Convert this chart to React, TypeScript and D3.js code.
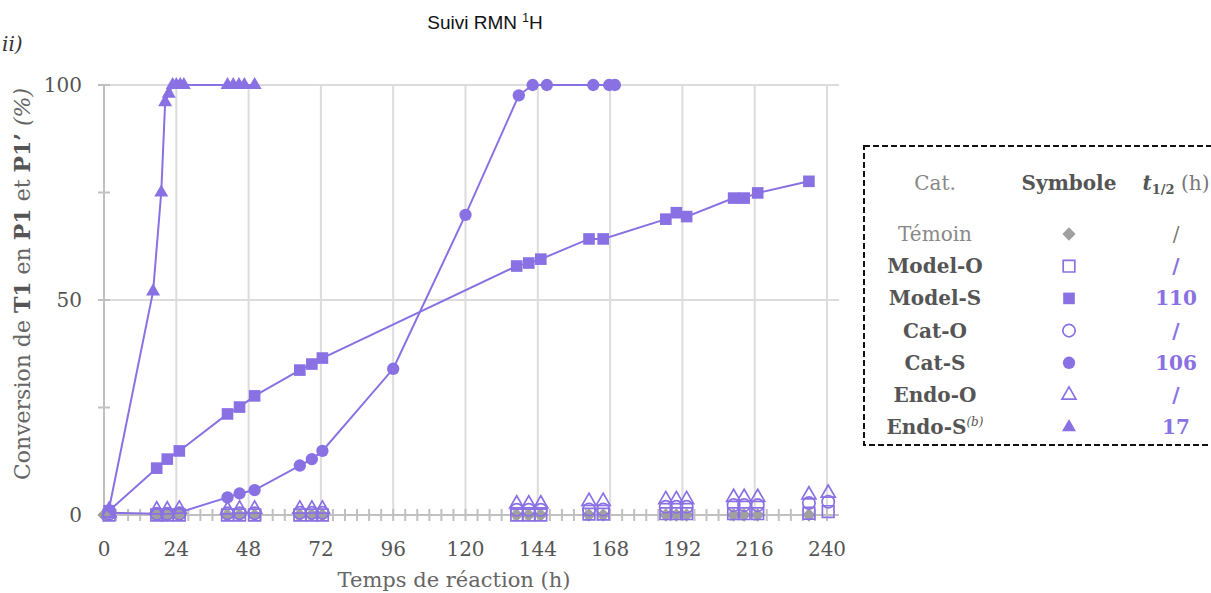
import React from 'react';
import * as d3 from 'd3';

const PURPLE = '#8a71e3';
const GREY = '#a0a0a0';
const SERIF = '"DejaVu Serif", serif';

// sampling times (h)
const tempsO = [1.7, 17.5, 21, 25, 41, 45, 50, 65, 69, 72.5, 137, 141, 145, 161, 165.7, 186.5, 190, 193.4, 209, 212.5, 217, 234, 240.4];
const tempsTemoin = [0, 17.5, 21, 25, 41, 45, 50, 65, 69, 72.5, 137, 141, 145, 161, 165.7, 186.5, 190, 193.4, 209, 212.5, 217, 234];
const tempsModelS = [1.7, 17.5, 21, 25, 41, 45, 50, 65, 69, 72.5, 137, 141, 145, 161, 165.7, 186.5, 190, 193.4, 209, 212.5, 217, 234];
const tempsCatS = [1.7, 17.5, 21, 25, 41, 45, 50, 65, 69, 72.5, 96, 120, 137.7, 142.3, 147, 162.4, 167.7, 169.6];
const tempsEndoS = [1.7, 16.3, 19, 20.3, 21.5, 22.8, 24, 25.3, 26.5, 41, 42.9, 44.8, 46.6, 50];

// conversions (%)
const temoin = [0, 0, 0, 0, 0, 0, 0, 0, 0, 0, 0, 0, 0, 0, 0, 0, 0, 0, 0, 0, 0, 0];
const modelO = [0, 0, 0, 0, 0, 0, 0, 0, 0, 0, 0, 0, 0, 0.2, 0.2, 0.3, 0.3, 0.3, 0.3, 0.3, 0.3, 0.4, 0.8];
const modelS = [1, 10.9, 13, 14.9, 23.5, 25.1, 27.7, 33.7, 35.1, 36.5, 57.9, 58.6, 59.5, 64.2, 64.2, 68.8, 70.3, 69.4, 73.7, 73.7, 74.9, 77.6];
const catO = [0.3, 0.3, 0.3, 0.3, 0.4, 0.4, 0.4, 0.5, 0.5, 0.5, 1.2, 1.2, 1.2, 1.3, 1.3, 1.9, 1.9, 1.9, 2.3, 2.3, 2.3, 2.8, 3.1];
const catS = [0.5, 0.3, 0.4, 0.6, 4.1, 5.0, 5.8, 11.5, 13, 14.9, 34, 69.8, 97.6, 100, 100, 100, 100, 100];
const endoO = [0.5, 1.2, 1.2, 1.4, 1.2, 1.4, 1.4, 1.4, 1.4, 1.4, 2.6, 2.6, 2.6, 3.2, 3.2, 3.6, 3.6, 3.6, 4.1, 4.1, 4.1, 4.7, 5.1];
const endoS = [1.5, 52, 75, 96, 98, 100, 100, 100, 100, 100, 100, 100, 100, 100];

// legend table
const legendNames = ['Témoin', 'Model-O', 'Model-S', 'Cat-O', 'Cat-S', 'Endo-O', 'Endo-S'];
const legendHalfLife = ['/', '/', '110', '/', '106', '/', '17'];

const xTicks = d3.range(0, 241, 24);
const xMinor = d3.range(0, 241, 4);
const yTicks = [0, 25, 50, 75, 100];
const yLabels = [0, 50, 100];

type Marker = 'diamond' | 'square' | 'circle' | 'triangle';

const symbolPath = (m: Marker) => {
  if (m === 'square') return d3.symbol(d3.symbolSquare, 135)()!;
  if (m === 'circle') return d3.symbol(d3.symbolCircle, 120)()!;
  if (m === 'triangle') return d3.symbol(d3.symbolTriangle, 85)()!;
  return d3.symbol(d3.symbolSquare, 88)()!;
};

const MarkerShape = ({ m, filled, x, y, color }: { m: Marker; filled: boolean; x: number; y: number; color: string }) => (
  <path
    d={symbolPath(m)}
    transform={`translate(${x},${y})${m === 'diamond' ? ' rotate(45)' : ''}`}
    fill={filled ? color : 'none'}
    stroke={filled ? 'none' : color}
    strokeWidth={1.7}
  />
);

const legendMarkers: { m: Marker; filled: boolean; color: string }[] = [
  { m: 'diamond', filled: true, color: GREY },
  { m: 'square', filled: false, color: PURPLE },
  { m: 'square', filled: true, color: PURPLE },
  { m: 'circle', filled: false, color: PURPLE },
  { m: 'circle', filled: true, color: PURPLE },
  { m: 'triangle', filled: false, color: PURPLE },
  { m: 'triangle', filled: true, color: PURPLE },
];

export default function App() {
  const x = d3.scaleLinear().domain([0, 240]).range([104, 827]);
  const y = d3.scaleLinear().domain([0, 100]).range([515, 85]);
  const line = d3
    .line<[number, number]>()
    .x(d => x(d[0]))
    .y(d => y(d[1]));

  const zip = (t: number[], v: number[]) => t.map((ti, i) => [ti, v[i]] as [number, number]);

  const sSeries: { pts: [number, number][]; m: Marker }[] = [
    { pts: zip(tempsModelS, modelS), m: 'square' },
    { pts: zip(tempsCatS, catS), m: 'circle' },
    { pts: zip(tempsEndoS, endoS), m: 'triangle' },
  ];
  const oSeries: { pts: [number, number][]; m: Marker }[] = [
    { pts: zip(tempsO, modelO), m: 'square' },
    { pts: zip(tempsO, catO), m: 'circle' },
    { pts: zip(tempsO, endoO), m: 'triangle' },
  ];

  const legX = [935, 1069, 1176];
  const legRowY = (i: number) => 234 + i * 32.2;

  return (
    <svg
      width={1211}
      height={593}
      style={{ position: 'fixed', left: 0, top: 0, background: '#fff' }}
      fontFamily={SERIF}
    >
      <text x={485} y={29} textAnchor="middle" fontFamily='"Liberation Sans", Arial, sans-serif' fontSize={19} fill="#111">
        Suivi RMN <tspan fontSize={12} dy={-7}>1</tspan><tspan dy={7}>H</tspan>
      </text>
      <text x={2} y={51} fontSize={20} fontStyle="italic" fill="#333">ii)</text>

      {/* grid */}
      {xTicks.slice(1).map(t => (
        <line key={'gx' + t} x1={x(t)} x2={x(t)} y1={y(100)} y2={y(0)} stroke="#dcdcdc" strokeWidth={2} />
      ))}
      {[50, 100].map(v => (
        <line key={'gy' + v} x1={98} x2={839} y1={y(v)} y2={y(v)} stroke="#dcdcdc" strokeWidth={2} />
      ))}

      {/* axes */}
      <line x1={x(0)} x2={x(0)} y1={y(100)} y2={y(0)} stroke="#c0c0c0" strokeWidth={2} />
      {yTicks.map(v => (
        <line key={'yt' + v} x1={98} x2={110} y1={y(v)} y2={y(v)} stroke="#c0c0c0" strokeWidth={2} />
      ))}
      <line x1={98} x2={839} y1={y(0)} y2={y(0)} stroke="#c0c0c0" strokeWidth={2} />
      {xMinor.map(t => (
        <line key={'xt' + t} x1={x(t)} x2={x(t)} y1={y(0) - 6} y2={y(0) + 6} stroke="#c0c0c0" strokeWidth={2} />
      ))}
      {yLabels.map(v => (
        <text key={'yl' + v} x={82} y={y(v) + 7} textAnchor="end" fontSize={20} fill="#555">{v}</text>
      ))}
      {xTicks.map(t => (
        <text key={'xl' + t} x={x(t)} y={556} textAnchor="middle" fontSize={20} fill="#555">{t}</text>
      ))}
      <text x={454} y={587} textAnchor="middle" fontSize={21} fill="#666">Temps de réaction (h)</text>
      <text transform="translate(30,284) rotate(-90)" textAnchor="middle" fontSize={22} fill="#666">
        Conversion de <tspan fontWeight="bold" fill="#555">T1</tspan> en <tspan fontWeight="bold" fill="#555">P1</tspan> et{' '}
        <tspan fontWeight="bold" fill="#555">P1’</tspan> <tspan fontStyle="italic">(%)</tspan>
      </text>

      {/* S series: lines + filled markers */}
      {sSeries.map((s, i) => (
        <g key={'s' + i}>
          <path d={line(s.pts)!} fill="none" stroke={PURPLE} strokeWidth={2} />
          {s.pts.map((p, j) => (
            <MarkerShape key={j} m={s.m} filled x={x(p[0])} y={y(p[1])} color={PURPLE} />
          ))}
        </g>
      ))}

      {/* control */}
      {zip(tempsTemoin, temoin).map((p, j) => (
        <MarkerShape key={'t' + j} m="diamond" filled x={x(p[0])} y={y(p[1])} color={GREY} />
      ))}

      {/* O series: open markers */}
      {oSeries.map((s, i) => (
        <g key={'o' + i}>
          {s.pts.map((p, j) => (
            <MarkerShape key={j} m={s.m} filled={false} x={x(p[0])} y={y(p[1])} color={PURPLE} />
          ))}
        </g>
      ))}

      {/* legend table */}
      <rect x={864} y={146} width={360} height={299} fill="#fff" stroke="#111" strokeWidth={2} strokeDasharray="6,3" />
      <text x={legX[0]} y={190} textAnchor="middle" fontSize={20} fill="#888">Cat.</text>
      <text x={legX[1]} y={190} textAnchor="middle" fontSize={20} fontWeight="bold" fill="#555">Symbole</text>
      <text x={legX[2]} y={190} textAnchor="middle" fontSize={20} fill="#777">
        <tspan fontStyle="italic" fontWeight="bold" fill="#555">t</tspan>
        <tspan fontSize={13} fontWeight="bold" fill="#555" dy={4}>1/2</tspan>
        <tspan dy={-4}> (h)</tspan>
      </text>
      {legendNames.map((name, i) => {
        const yy = legRowY(i);
        const first = i === 0;
        const mk = legendMarkers[i];
        return (
          <g key={'lg' + i}>
            <text x={legX[0]} y={yy + 7} textAnchor="middle" fontSize={20} fontWeight={first ? 'normal' : 'bold'} fill={first ? '#888' : '#555'}>
              {name}
              {name === 'Endo-S' ? <tspan fontSize={12} fontStyle="italic" fontWeight="normal" dy={-8}>(b)</tspan> : null}
            </text>
            <MarkerShape m={mk.m} filled={mk.filled} x={legX[1]} y={yy} color={mk.color} />
            <text x={legX[2]} y={yy + 7} textAnchor="middle" fontSize={20} fontWeight={first ? 'normal' : 'bold'} fill={first ? '#777' : PURPLE}>
              {legendHalfLife[i]}
            </text>
          </g>
        );
      })}
    </svg>
  );
}
